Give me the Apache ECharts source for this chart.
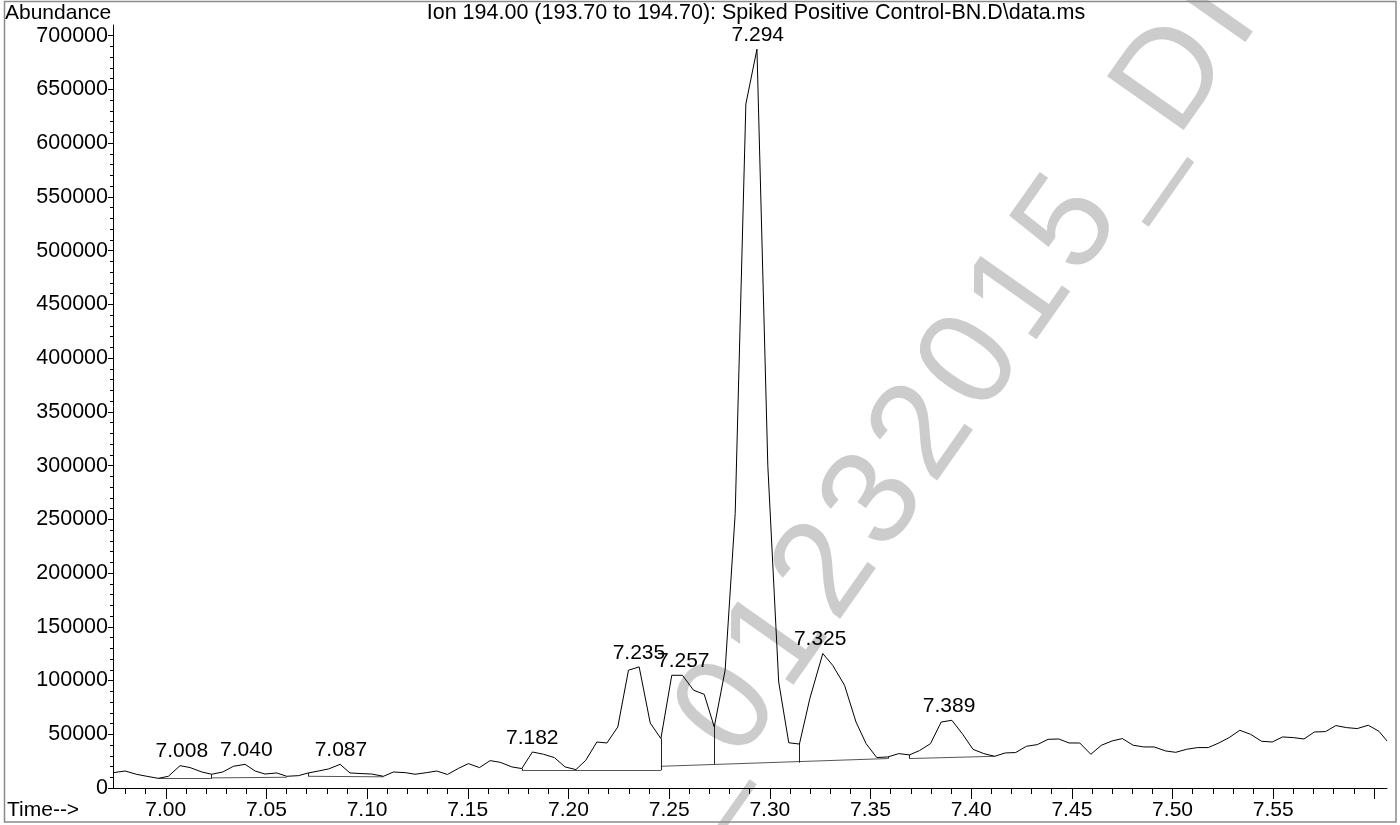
<!DOCTYPE html>
<html>
<head>
<meta charset="utf-8">
<script src="https://cdn.jsdelivr.net/npm/echarts@6/dist/echarts.min.js"></script>
<style>
html,body{margin:0;padding:0;background:#fff;}
#chart{width:1400px;height:825px;}
</style>
</head>
<body>
<div id="chart"></div>
<script>
// ---- data ----
const times = [6.9740, 6.9798, 6.9856, 6.9906, 6.9963, 7.0013, 7.0071, 7.0121, 7.0179, 7.0228,
7.0283, 7.0336, 7.0394, 7.0444, 7.0493, 7.0551, 7.0601, 7.0659, 7.0708, 7.0758,
7.0808, 7.0866, 7.0915, 7.0974, 7.1023, 7.1081, 7.1131, 7.1189, 7.1238, 7.1296,
7.1346, 7.1399, 7.1453, 7.1503, 7.1558, 7.1611, 7.1661, 7.1719, 7.1768, 7.1821,
7.1876, 7.1930, 7.1983, 7.2037, 7.2086, 7.2141, 7.2191, 7.2245, 7.2298, 7.2351,
7.2406, 7.2459, 7.2513, 7.2566, 7.2621, 7.2674, 7.2724, 7.2778, 7.2828, 7.2881,
7.2936, 7.2990, 7.3044, 7.3094, 7.3147, 7.3199, 7.3263, 7.3312, 7.3371, 7.3428,
7.3478, 7.3531, 7.3586, 7.3640, 7.3693, 7.3743, 7.3798, 7.3851, 7.3904, 7.3959,
7.4009, 7.4063, 7.4116, 7.4169, 7.4221, 7.4274, 7.4329, 7.4382, 7.4435, 7.4486,
7.4539, 7.4594, 7.4647, 7.4700, 7.4751, 7.4804, 7.4857, 7.4909, 7.4965, 7.5016,
7.5069, 7.5124, 7.5177, 7.5230, 7.5281, 7.5334, 7.5387, 7.5442, 7.5495, 7.5546,
7.5600, 7.5653, 7.5704, 7.5760, 7.5811, 7.5864, 7.5917, 7.5972, 7.6025, 7.6065];

const abundance = [14300, 15800, 12700, 10900, 9000, 10900, 20800, 19000, 14900, 12800,
14900, 20200, 22000, 15800, 13000, 14000, 10900, 11500, 14000, 15800,
17700, 22000, 14000, 13400, 13000, 10900, 14900, 14300, 12800, 14300,
15800, 12600, 18200, 22700, 19000, 25500, 23900, 19600, 18100, 33500,
31400, 28300, 19600, 17100, 25800, 42800, 41900, 56800, 109600, 112700,
60500, 46000, 104900, 104900, 91000, 87200, 56800, 109600, 255500, 636500,
687500, 300000, 98700, 42100, 40900, 83500, 125100, 114200, 95600, 61400,
41300, 28300, 28900, 32000, 30800, 34800, 41300, 61400, 63000, 49700,
36000, 32000, 29500, 32600, 33000, 38800, 40400, 45300, 45600, 41900,
41900, 31400, 39800, 43800, 46000, 39800, 38200, 38200, 34500, 33200,
36000, 37600, 37600, 41900, 46900, 53700, 50000, 43500, 42800, 47500,
46900, 45600, 52100, 52500, 58100, 56200, 55300, 58400, 52800, 43800];

// peak annotations: label text, label time, apex abundance
const peakLabels = ['7.008', '7.040', '7.087', '7.182', '7.235', '7.257', '7.294', '7.325', '7.389'];
const peakTimes  = [7.008, 7.040, 7.087, 7.182, 7.235, 7.257, 7.294, 7.325, 7.389];
const peakApex   = [20800, 22000, 22000, 33500, 112700, 104900, 687500, 125100, 63000];

// integration baselines: [startTime, startAbundance, endTime, endAbundance]
const baselines = [
  [6.9963, 9000, 7.0228, 9000],
  [7.0228, 9400, 7.0601, 10000],
  [7.0708, 10900, 7.1081, 10400],
  [7.1768, 16500, 7.2459, 16500],
  [7.2459, 20200, 7.3586, 27400],
  [7.3693, 27400, 7.4116, 29500]
];
// drop lines: [time, topAbundance, bottomAbundance]
const dropLines = [
  [7.0228, 12800, 9000],
  [7.0708, 14000, 10900],
  [7.1768, 18100, 16500],
  [7.2459, 46000, 16500],
  [7.2724, 56800, 21900],
  [7.3147, 40900, 23600],
  [7.3586, 28900, 27400],
  [7.3693, 30800, 27400]
];

// axis ticks
const xMin = 6.9738, xMax = 7.6065;
const xMajorTicks = [7.00, 7.05, 7.10, 7.15, 7.20, 7.25, 7.30, 7.35, 7.40, 7.45, 7.50, 7.55, 7.60];
const xTickLabels = [7.00, 7.05, 7.10, 7.15, 7.20, 7.25, 7.30, 7.35, 7.40, 7.45, 7.50, 7.55];
const xMinorTicks = [6.98, 6.99, 7.01, 7.02, 7.03, 7.04, 7.06, 7.07, 7.08, 7.09, 7.11, 7.12, 7.13, 7.14,
  7.16, 7.17, 7.18, 7.19, 7.21, 7.22, 7.23, 7.24, 7.26, 7.27, 7.28, 7.29, 7.31, 7.32, 7.33, 7.34,
  7.36, 7.37, 7.38, 7.39, 7.41, 7.42, 7.43, 7.44, 7.46, 7.47, 7.48, 7.49, 7.51, 7.52, 7.53, 7.54,
  7.56, 7.57, 7.58, 7.59];
const yMin = 0, yMax = 710000;
const yMajorTicks = [0, 50000, 100000, 150000, 200000, 250000, 300000, 350000, 400000, 450000,
  500000, 550000, 600000, 650000, 700000];
const yMinorTicks = [];
for (let v = 10000; v <= 700000; v += 10000) yMinorTicks.push(v);

const titleText = 'Ion 194.00 (193.70 to 194.70): Spiked Positive Control-BN.D\\data.ms';
const watermarkChars = ['_', '0', '1', '2', '3', '2', '0', '1', '5', '_', 'D', 'I'];

// ---- chart ----
const FONT = '"Liberation Sans", Arial, Helvetica, sans-serif';
const chart = echarts.init(document.getElementById('chart'), null, {renderer: 'canvas'});

const trace = times.map((t, i) => [t, abundance[i]]);
const peakData = peakTimes.map((t, i) => ({value: [t, peakApex[i]], labelText: peakLabels[i]}));
const baseData = baselines.map(b => ({coords: [[b[0], b[1]], [b[2], b[3]]]}));
const dropData = dropLines.map(d => ({coords: [[d[0], d[1]], [d[0], d[2]]]}));

// diagonal watermark, laid out character by character
function watermark() {
  const ang = 0.958, ux = Math.cos(ang), uy = -Math.sin(ang);
  const adv = 152, glyph = 136;
  const emW = ch => (ch === 'D' ? 0.722 : ch === 'I' ? 0.278 : 0.556);
  const cx = 730, cy = 710;
  let left = -emW('_') * adv - emW('0') * adv / 2;
  const els = [];
  watermarkChars.forEach(ch => {
    const w = emW(ch) * adv;
    const s = left + w / 2;
    left += w;
    els.push({type: 'text', z: -10, silent: true, x: cx + s * ux, y: cy + s * uy, rotation: ang,
      style: {text: ch, fill: '#cccccc', font: glyph + 'px ' + FONT,
        align: 'center', verticalAlign: 'middle', textAlign: 'center', textVerticalAlign: 'middle'}});
  });
  return els;
}

const option = {
  animation: false,
  backgroundColor: '#ffffff',
  grid: {left: 113, right: 13, top: 25, bottom: 37},
  xAxis: [{
    type: 'value', min: xMin, max: xMax, position: 'bottom',
    axisLine: {show: true, lineStyle: {color: '#000', width: 1}},
    axisTick: {show: true, customValues: xMajorTicks, length: 11, lineStyle: {color: '#000', width: 1}},
    axisLabel: {show: true, customValues: xTickLabels, formatter: v => v.toFixed(2),
      fontSize: 21, fontFamily: FONT, color: '#000', margin: 12},
    splitLine: {show: false}
  }, {
    type: 'value', min: xMin, max: xMax, position: 'bottom', offset: 0,
    axisLine: {show: false},
    axisTick: {show: true, customValues: xMinorTicks, length: 6, lineStyle: {color: '#000', width: 1}},
    axisLabel: {show: false},
    splitLine: {show: false}
  }],
  yAxis: [{
    type: 'value', min: yMin, max: yMax, position: 'left',
    axisLine: {show: true, lineStyle: {color: '#000', width: 1}},
    axisTick: {show: true, customValues: yMajorTicks, length: 5, lineStyle: {color: '#000', width: 1}},
    axisLabel: {show: true, customValues: yMajorTicks, formatter: v => String(v),
      fontSize: 21.5, fontFamily: FONT, color: '#000', margin: 5},
    splitLine: {show: false}
  }, {
    type: 'value', min: yMin, max: yMax, position: 'left', offset: 0,
    axisLine: {show: false},
    axisTick: {show: true, customValues: yMinorTicks, length: 3, lineStyle: {color: '#000', width: 1}},
    axisLabel: {show: false},
    splitLine: {show: false}
  }],
  graphic: [
    {type: 'rect', z: 100, silent: true,
      shape: {x: 4.5, y: 1.5, width: 1391.5, height: 820.5},
      style: {fill: 'none', stroke: '#8a8a8a', lineWidth: 1.5}},
    ...watermark(),
    {type: 'text', z: 50, silent: true, x: 5, y: 12.8,
      style: {text: 'Abundance', fill: '#000', font: '21px ' + FONT,
        align: 'left', verticalAlign: 'middle', textAlign: 'left', textVerticalAlign: 'middle'}},
    {type: 'text', z: 50, silent: true, x: 756, y: 12.7,
      style: {text: titleText, fill: '#000', font: '21.5px ' + FONT,
        align: 'center', verticalAlign: 'middle', textAlign: 'center', textVerticalAlign: 'middle'}},
    {type: 'text', z: 50, silent: true, x: 7, y: 810,
      style: {text: 'Time-->', fill: '#000', font: '21px ' + FONT,
        align: 'left', verticalAlign: 'middle', textAlign: 'left', textVerticalAlign: 'middle'}}
  ],
  series: [{
    type: 'line', xAxisIndex: 0, yAxisIndex: 0, data: trace,
    symbol: 'none', smooth: false, z: 5,
    lineStyle: {color: '#000', width: 1}
  }, {
    type: 'lines', coordinateSystem: 'cartesian2d', xAxisIndex: 0, yAxisIndex: 0,
    data: baseData, z: 4, silent: true,
    lineStyle: {color: '#555', width: 1, opacity: 1, curveness: 0}
  }, {
    type: 'lines', coordinateSystem: 'cartesian2d', xAxisIndex: 0, yAxisIndex: 0,
    data: dropData, z: 4, silent: true,
    lineStyle: {color: '#222', width: 1, opacity: 1, curveness: 0}
  }, {
    type: 'scatter', xAxisIndex: 0, yAxisIndex: 0, data: peakData,
    symbol: 'circle', symbolSize: 1, z: 6, silent: true,
    itemStyle: {color: '#000', opacity: 0},
    label: {show: true, position: 'top', distance: 3, fontSize: 21, fontFamily: FONT,
      color: '#000', opacity: 1, formatter: p => p.data.labelText}
  }]
};
chart.setOption(option);
</script>
</body>
</html>
